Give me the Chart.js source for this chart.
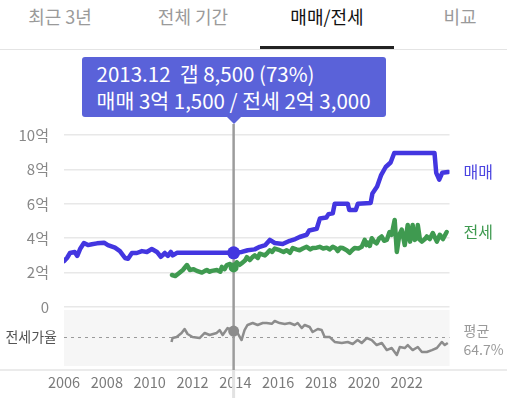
<!DOCTYPE html>
<html>
<head>
<meta charset="utf-8">
<script src="https://cdn.jsdelivr.net/npm/chart.js"></script>
<style>
  html, body { margin: 0; padding: 0; background: #fff; }
  body { width: 507px; height: 398px; position: relative; overflow: hidden;
         font-family: 'Noto Sans CJK KR', 'Noto Sans', sans-serif; }
  #chart { position: absolute; left: 0; top: 0; }
  .tab { position: absolute; top: 0; width: 134px; text-align: center; line-height: 32px;
         font-size: 18px; color: #9a9a9a; }
  .tab.on { color: #111; }
  #tabline { position: absolute; left: 0; top: 49px; width: 507px; height: 1px; background: #e4e4e4; }
  #tabbar { position: absolute; left: 260px; top: 46px; width: 134px; height: 3px; background: #222; }
  #tip { position: absolute; top: 57px; left: 82px; padding: 3px 15px; background: #5a62d9;
         color: #fff; font-size: 20.5px; line-height: 27px; border-radius: 3px; white-space: pre; }
  #tip:after { content: ''; position: absolute; left: 50%; bottom: -7px; margin-left: -7px;
         border-left: 7px solid transparent; border-right: 7px solid transparent; border-top: 7px solid #5a62d9; }
</style>
</head>
<body>
<div class="tab" style="left:-7px">최근 3년</div>
<div class="tab" style="left:126px">전체 기간</div>
<div class="tab on" style="left:260px">매매/전세</div>
<div class="tab" style="left:393px">비교</div>
<div id="tabline"></div>
<div id="tabbar"></div>
<canvas id="chart" width="507" height="398"></canvas>
<div id="tip"></div>
<script>
// 매매 (억)
const saleYears = [2006.00, 2006.14, 2006.28, 2006.50, 2006.62, 2006.75, 2006.93, 2007.12, 2007.30, 2007.54,
  2007.87, 2008.05, 2008.38, 2008.61, 2008.85, 2008.99, 2009.17, 2009.40, 2009.64, 2009.87,
  2010.10, 2010.34, 2010.52, 2010.71, 2010.85, 2010.99, 2011.08, 2011.27, 2013.92, 2014.30,
  2014.58, 2014.90, 2015.14, 2015.40, 2015.61, 2015.84, 2016.21, 2016.54, 2016.80, 2017.00,
  2017.33, 2017.45, 2017.80, 2017.95, 2018.25, 2018.35, 2018.55, 2018.64, 2019.25, 2019.32,
  2019.62, 2019.72, 2020.32, 2020.40, 2020.62, 2020.80, 2021.02, 2021.25, 2021.42, 2023.30,
  2023.38, 2023.52, 2023.66, 2023.94];
const saleValues = [2.67, 2.85, 3.14, 3.20, 2.97, 3.37, 3.72, 3.60, 3.65, 3.70,
  3.74, 3.60, 3.45, 3.25, 2.85, 2.80, 3.14, 3.14, 3.25, 3.20,
  3.37, 3.20, 2.92, 3.14, 2.97, 3.20, 3.00, 3.15, 3.15, 3.20,
  3.30, 3.35, 3.50, 3.60, 3.90, 3.72, 3.66, 3.85, 3.95, 4.07,
  4.20, 4.45, 4.55, 5.15, 5.20, 5.40, 5.45, 6.00, 6.00, 5.64,
  5.64, 6.00, 6.05, 6.60, 7.00, 7.65, 8.14, 8.40, 8.95, 8.95,
  7.80, 7.40, 7.80, 7.85];

// 전세 (억)
const jeonseYears = [2011.04, 2011.20, 2011.35, 2011.55, 2011.74, 2011.88, 2012.05, 2012.20, 2012.44, 2012.58,
  2012.67, 2012.80, 2012.90, 2013.14, 2013.30, 2013.37, 2013.50, 2013.60, 2013.75, 2013.84,
  2013.92, 2014.07, 2014.20, 2014.30, 2014.45, 2014.54, 2014.68, 2014.80, 2014.91, 2015.05,
  2015.14, 2015.38, 2015.50, 2015.61, 2015.72, 2015.84, 2016.07, 2016.25, 2016.40, 2016.55,
  2016.68, 2016.85, 2017.00, 2017.15, 2017.33, 2017.50, 2017.61, 2017.80, 2017.94, 2018.10,
  2018.27, 2018.40, 2018.55, 2018.70, 2018.78, 2018.90, 2019.01, 2019.20, 2019.34, 2019.45,
  2019.57, 2019.75, 2019.90, 2020.04, 2020.12, 2020.18, 2020.28, 2020.37, 2020.48, 2020.60,
  2020.72, 2020.83, 2020.95, 2021.07, 2021.20, 2021.30, 2021.44, 2021.54, 2021.66, 2021.77,
  2021.91, 2022.05, 2022.16, 2022.28, 2022.38, 2022.47, 2022.52, 2022.62, 2022.71, 2022.85,
  2022.94, 2023.08, 2023.22, 2023.41, 2023.55, 2023.69, 2023.87];
const jeonseValues = [1.86, 1.80, 1.95, 2.15, 2.44, 2.15, 2.20, 2.10, 2.00, 2.10,
  2.15, 2.05, 2.10, 2.15, 2.05, 2.33, 2.20, 2.44, 2.50, 2.33,
  2.30, 2.60, 2.45, 2.55, 2.70, 2.90, 2.73, 2.90, 3.00, 2.85,
  3.10, 3.00, 3.15, 3.30, 3.20, 3.40, 3.30, 3.20, 3.30, 3.15,
  3.43, 3.35, 3.30, 3.40, 3.50, 3.35, 3.43, 3.45, 3.50, 3.40,
  3.45, 3.35, 3.50, 3.40, 3.25, 3.45, 3.43, 3.30, 3.15, 3.30,
  3.43, 3.40, 3.50, 3.90, 3.60, 3.75, 3.55, 4.00, 3.80, 3.70,
  4.00, 4.10, 3.85, 3.90, 4.36, 4.20, 5.06, 3.20, 4.20, 4.50,
  3.60, 4.77, 3.80, 4.77, 3.90, 4.00, 4.77, 3.90, 3.80, 3.95,
  4.10, 3.95, 4.30, 3.80, 4.20, 3.95, 4.36];

// 전세가율 (%)
const ratioYears = [2011.02, 2011.07, 2011.26, 2011.49, 2011.63, 2011.77, 2012.00, 2012.33, 2012.57, 2012.80,
  2013.13, 2013.27, 2013.41, 2013.64, 2013.92, 2014.10, 2014.29, 2014.43, 2014.57, 2014.81,
  2015.04, 2015.28, 2015.46, 2015.70, 2015.84, 2016.07, 2016.31, 2016.54, 2016.77, 2016.91,
  2017.10, 2017.24, 2017.47, 2017.61, 2017.85, 2018.03, 2018.17, 2018.41, 2018.64, 2018.97,
  2019.25, 2019.48, 2019.71, 2019.90, 2020.14, 2020.37, 2020.60, 2020.84, 2021.07, 2021.30,
  2021.54, 2021.68, 2021.91, 2022.05, 2022.28, 2022.52, 2022.71, 2022.94, 2023.18, 2023.41,
  2023.64, 2023.78, 2023.92];
const ratioValues = [57.8, 63.3, 64.7, 70.3, 75.8, 68.9, 64.7, 63.3, 70.3, 67.5,
  70.3, 74.4, 67.5, 77.2, 73.0, 70.3, 60.5, 74.4, 81.4, 84.1,
  81.4, 84.1, 84.1, 83.0, 86.9, 84.1, 82.8, 84.1, 81.4, 84.1,
  77.2, 81.4, 78.6, 71.6, 75.8, 74.4, 64.7, 64.7, 57.8, 56.4,
  57.8, 55.0, 60.5, 56.4, 63.3, 60.5, 53.6, 56.4, 46.6, 49.4,
  39.7, 50.8, 49.4, 53.6, 46.6, 50.8, 43.9, 43.9, 46.6, 49.4,
  57.8, 53.6, 56.4];

const avgRatio = 64.7;
const priceTicks = [0, 2, 4, 6, 8, 10];
const yearTicks = [2006, 2008, 2010, 2012, 2014, 2016, 2018, 2020, 2022];
const activeYear = 2013.92;
const activeLabel = '2013.12';

const FONT = "'Noto Sans CJK KR', 'Noto Sans', sans-serif";
Chart.defaults.font.family = FONT;

function pts(xs, ys) { return xs.map((x, i) => ({ x: x, y: ys[i] })); }
function comma(n) { return String(n).replace(/\B(?=(\d{3})+(?!\d))/g, ','); }
function eok(v) {
  const e = Math.floor(v + 1e-9);
  const m = Math.round((v - e) * 10000);
  return e + '억 ' + comma(m);
}
const activeR = ctx => (ctx.raw && Math.abs(ctx.raw.x - activeYear) < 0.001);

const overlay = {
  id: 'overlay',
  beforeDatasetsDraw(chart) {
    const { ctx, chartArea: a, scales } = chart;
    const r = scales.ratio;
    ctx.save();
    // grey band of the ratio panel
    ctx.fillStyle = '#f6f6f6';
    ctx.fillRect(a.left, r.top, a.right - a.left, r.bottom - r.top - 4);
    // average line
    const ya = r.getPixelForValue(avgRatio);
    ctx.strokeStyle = '#9a9a9a';
    ctx.lineWidth = 1;
    ctx.setLineDash([3, 4]);
    ctx.beginPath(); ctx.moveTo(a.left, ya + 0.5); ctx.lineTo(a.right, ya + 0.5); ctx.stroke();
    ctx.setLineDash([]);
    // bottom rule
    ctx.strokeStyle = '#e4e4e4';
    ctx.lineWidth = 1.5;
    ctx.beginPath(); ctx.moveTo(0, a.bottom); ctx.lineTo(chart.width, a.bottom); ctx.stroke();
    // crosshair
    const xc = scales.x.getPixelForValue(activeYear);
    ctx.strokeStyle = '#e2e2e2';
    ctx.lineWidth = 3;
    ctx.beginPath(); ctx.moveTo(xc, a.bottom); ctx.lineTo(xc, chart.height); ctx.stroke();
    ctx.strokeStyle = '#9c9c9c';
    ctx.lineWidth = 2.5;
    ctx.beginPath(); ctx.moveTo(xc, 124); ctx.lineTo(xc, a.bottom); ctx.stroke();
    ctx.restore();
  },
  afterDraw(chart) {
    const { ctx, chartArea: a, scales } = chart;
    ctx.save();
    ctx.textBaseline = 'middle';
    ctx.textAlign = 'left';
    const lx = a.right + 14;
    ctx.font = '16px ' + FONT;
    ctx.fillStyle = '#4b44e0';
    ctx.fillText('매매', lx, scales.price.getPixelForValue(saleValues[saleValues.length - 1]));
    ctx.fillStyle = '#3f9a50';
    ctx.fillText('전세', lx, scales.price.getPixelForValue(jeonseValues[jeonseValues.length - 1]));
    const ya = scales.ratio.getPixelForValue(avgRatio);
    ctx.font = '14px ' + FONT;
    ctx.fillStyle = '#9a9a9a';
    ctx.fillText('평균', lx, ya - 6);
    ctx.fillText(avgRatio + '%', lx, ya + 13);
    ctx.restore();

    // tooltip box follows the active month
    const tip = document.getElementById('tip');
    const si = saleYears.indexOf(activeYear);
    const ji = jeonseYears.indexOf(activeYear);
    const ri = ratioYears.indexOf(activeYear);
    const gap = Math.round((saleValues[si] - jeonseValues[ji]) * 10000);
    tip.textContent = activeLabel + '  갭 ' + comma(gap) + ' (' + Math.round(ratioValues[ri]) + '%)\n' +
      '매매 ' + eok(saleValues[si]) + ' / 전세 ' + eok(jeonseValues[ji]);
    tip.style.left = (scales.x.getPixelForValue(activeYear) - tip.offsetWidth / 2) + 'px';
  }
};

new Chart(document.getElementById('chart'), {
  type: 'line',
  data: {
    datasets: [
      {
        label: '매매', data: pts(saleYears, saleValues), yAxisID: 'price',
        borderColor: '#4336e0', backgroundColor: '#4336e0', borderWidth: 4.5,
        borderJoinStyle: 'round', borderCapStyle: 'round',
        pointRadius: c => activeR(c) ? 6.5 : 0, pointBorderWidth: 0
      },
      {
        label: '전세', data: pts(jeonseYears, jeonseValues), yAxisID: 'price',
        borderColor: '#3f9a50', backgroundColor: '#3f9a50', borderWidth: 4.5,
        borderJoinStyle: 'round', borderCapStyle: 'round',
        pointRadius: c => activeR(c) ? 5 : 0, pointBorderWidth: 0
      },
      {
        label: '전세가율', data: pts(ratioYears, ratioValues), yAxisID: 'ratio',
        borderColor: '#8c8c8c', backgroundColor: '#8c8c8c', borderWidth: 2.5,
        borderJoinStyle: 'round',
        pointRadius: c => activeR(c) ? 5.5 : 0, pointBorderWidth: 0
      }
    ]
  },
  options: {
    animation: false,
    responsive: false,
    events: [],
    layout: { padding: { top: 135, right: 57.5, left: 0, bottom: 0 } },
    plugins: { legend: { display: false }, tooltip: { enabled: false } },
    scales: {
      x: {
        type: 'linear', min: 2006, max: 2024,
        afterBuildTicks: s => { s.ticks = yearTicks.map(v => ({ value: v })); },
        afterFit: s => { s.height = 28; },
        ticks: { color: '#7a7a7a', font: { size: 14.5 }, padding: 4, maxRotation: 0, autoSkip: false,
                 callback: v => String(v) },
        grid: { display: false, drawTicks: false },
        border: { display: false }
      },
      ratio: {
        type: 'linear', position: 'left', stack: 'panel', stackWeight: 60,
        min: 18.9, max: 102.2,
        afterBuildTicks: s => { s.ticks = [{ value: avgRatio }]; },
        afterFit: s => { s.width = 64; },
        ticks: { color: '#555', font: { size: 14 }, padding: 7, autoSkip: false, callback: () => '전세가율' },
        grid: { display: false, drawTicks: false },
        border: { display: false }
      },
      price: {
        type: 'linear', position: 'left', stack: 'panel', stackWeight: 175,
        min: -0.1744, max: 10,
        afterBuildTicks: s => { s.ticks = priceTicks.map(v => ({ value: v })); },
        afterFit: s => { s.width = 64; },
        ticks: { color: '#888', font: { size: 15 }, padding: 15, autoSkip: false,
                 callback: v => v === 0 ? '0' : v + '억' },
        grid: { color: '#e8e8e8', lineWidth: 1.5, drawTicks: false },
        border: { display: false }
      }
    }
  },
  plugins: [overlay]
});
</script>
</body>
</html>
